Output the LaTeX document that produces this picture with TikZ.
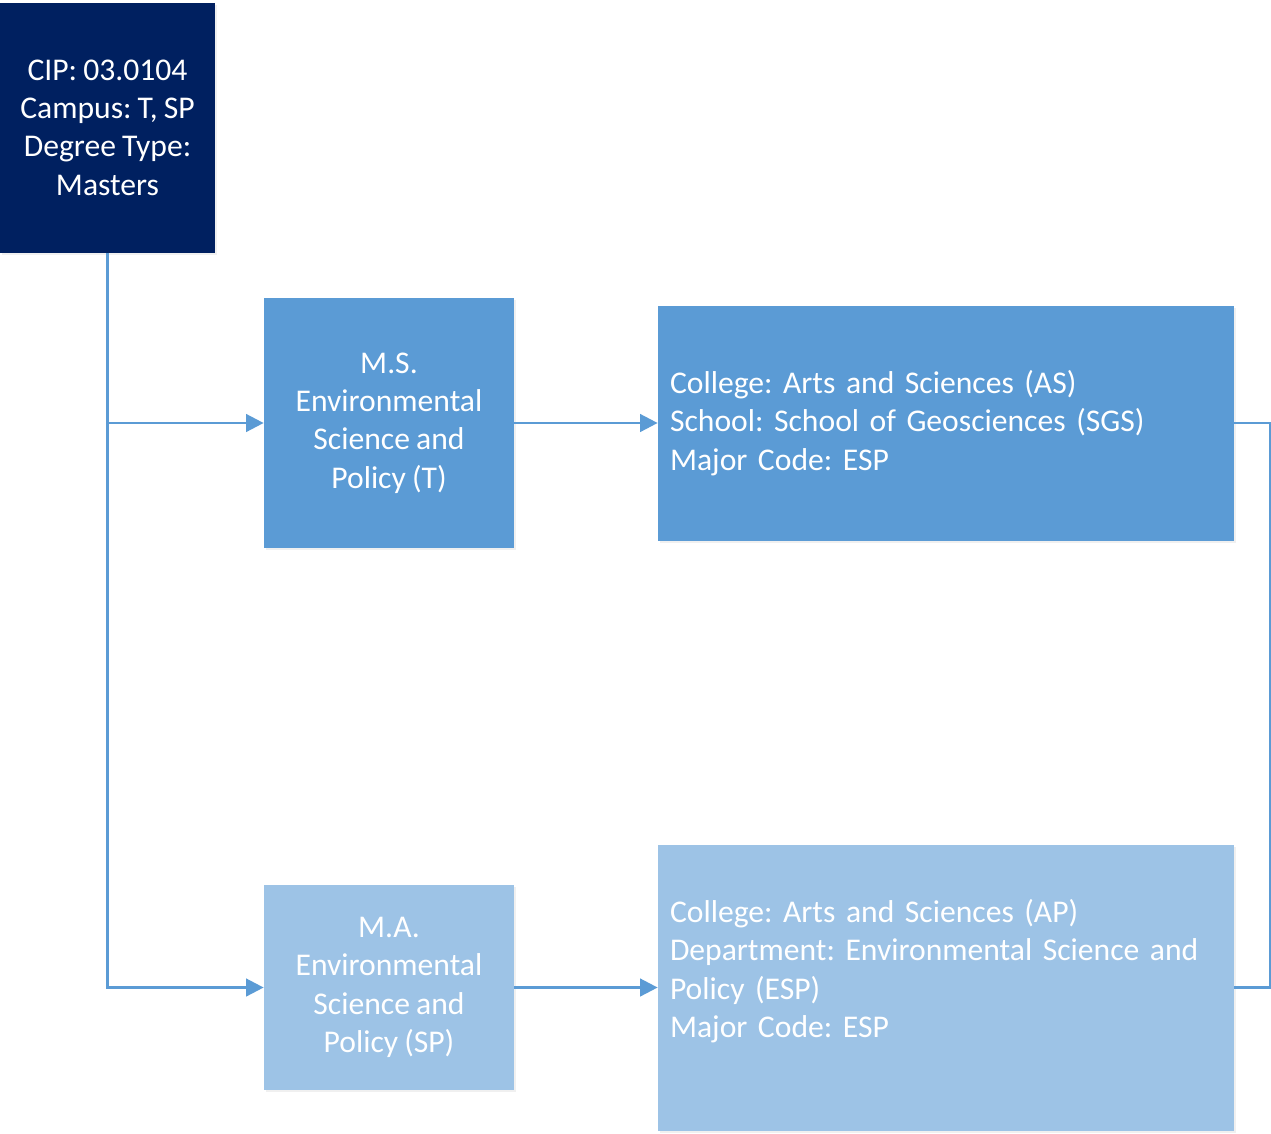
\documentclass[tikz,border=0pt]{standalone}
\usepackage{fontspec}
\setmainfont{Carlito}[WordSpace=0.85]
\frenchspacing
\usetikzlibrary{arrows.meta,shadows}
\definecolor{navy}{HTML}{002060}
\definecolor{midblue}{HTML}{5B9BD5}
\definecolor{paleblue}{HTML}{9DC3E6}
\begin{document}
\begin{tikzpicture}[
        x=0.02cm, y=-0.02cm,
        every node/.style={rectangle, text=white, inner sep=0pt,
            font=\fontsize{18}{21.8}\selectfont,
            drop shadow={opacity=0.12, shadow xshift=1.2pt, shadow yshift=-1.2pt}},
        degbox/.style={align=center, minimum width=250*0.02cm},
        infobox/.style={align=left, text width=552*0.02cm, inner xsep=12*0.02cm},
        ar/.style={-{Triangle[length=10pt,width=10pt]}, draw=midblue, line width=1.5pt},
        link/.style={draw=midblue, line width=1.5pt},
    ]
    \useasboundingbox (0,0) rectangle (1271,1133);

    \node[fill=navy, align=center, minimum width=215*0.02cm, minimum height=250*0.02cm](cip) at (107.5,127.5)
        {CIP: 03.0104\\Campus: T, SP\\Degree Type:\\Masters};
    \node[degbox, fill=midblue, minimum height=250*0.02cm](ms) at (389,423)
        {M.S.\\Environmental\\Science and\\Policy (T)};
    \node[degbox, fill=paleblue, minimum height=205*0.02cm](ma) at (389,987.5)
        {M.A.\\Environmental\\Science and\\Policy (SP)};
    \node[infobox, fill=midblue, minimum height=235*0.02cm](geo) at (946,423)
        {College: Arts and Sciences (AS)\\School: School of Geosciences (SGS)\\Major Code: ESP};
    \node[infobox, fill=paleblue, minimum height=286*0.02cm](dept) at (946,987.5)
        {College: Arts and Sciences (AP)\\Department: Environmental Science and\\Policy (ESP)\\Major Code: ESP\\\mbox{}};

    \draw[ar] (cip.south) |- (ms.west);
    \draw[ar] (cip.south) |- (ma.west);
    \draw[ar] (ms) -- (geo);
    \draw[ar] (ma) -- (dept);
    \draw[link] (geo.east) -- ++(36,0) |- (dept.east);
\end{tikzpicture}
\end{document}
